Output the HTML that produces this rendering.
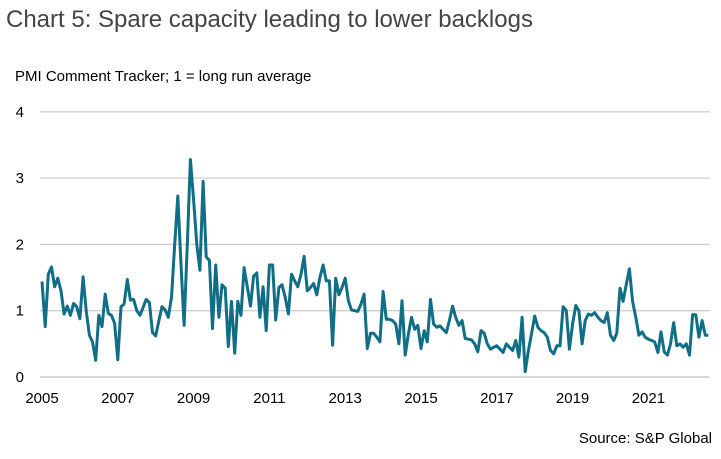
<!DOCTYPE html>
<html><head><meta charset="utf-8"><style>
body{margin:0;background:#fff;width:721px;height:454px;overflow:hidden;font-family:"Liberation Sans",sans-serif;}
</style></head><body>
<svg width="721" height="454" xmlns="http://www.w3.org/2000/svg">
<text x="6" y="27" font-size="24" fill="#444" font-family="Liberation Sans, sans-serif">Chart 5: Spare capacity leading to lower backlogs</text>
<text x="15" y="81" font-size="15" fill="#000">PMI Comment Tracker; 1 = long run average</text>
<text x="712" y="443" font-size="15" fill="#000" text-anchor="end">Source: S&amp;P Global</text>
<g id="grid"></g><g id="ylab"></g><g id="xlab"></g>
<path id="line" fill="none" stroke="#106e87" stroke-width="3" stroke-linejoin="round"/>
</svg>
<script>
const yTicks=[0,1,2,3,4];
const xTickLabels=["2005","2007","2009","2011","2013","2015","2017","2019","2021"];
const startYear=2005;
const values=[
1.44,0.76,1.55,1.66,1.36,1.49,1.3,0.95,1.07,0.93,1.11,1.06,
0.88,1.51,1.0,0.63,0.53,0.25,0.93,0.76,1.25,0.96,0.93,0.81,
0.26,1.06,1.1,1.47,1.16,1.17,1.0,0.93,1.05,1.17,1.12,0.67,
0.62,0.85,1.06,1.01,0.9,1.2,2.0,2.73,1.7,0.78,2.0,3.28,
2.67,2.0,1.61,2.95,1.81,1.76,0.73,1.69,0.9,1.39,1.34,0.46,
1.14,0.36,1.14,0.93,1.65,1.36,1.07,1.52,1.57,0.9,1.36,0.7,
1.69,1.69,0.86,1.35,1.39,1.2,0.95,1.55,1.45,1.36,1.55,1.82,
1.3,1.35,1.41,1.24,1.5,1.69,1.45,1.45,0.48,1.49,1.24,1.35,
1.49,1.15,1.01,1.0,0.99,1.1,1.25,0.43,0.66,0.66,0.6,0.53,
1.29,0.87,0.87,0.85,0.8,0.5,1.15,0.33,0.65,0.9,0.72,0.78,
0.43,0.7,0.53,1.17,0.8,0.75,0.77,0.72,0.67,0.85,1.07,0.9,
0.78,0.85,0.58,0.57,0.56,0.5,0.38,0.7,0.66,0.5,0.42,0.45,
0.47,0.42,0.37,0.5,0.45,0.4,0.55,0.3,0.9,0.08,0.4,0.65,
0.92,0.75,0.7,0.67,0.6,0.4,0.35,0.47,0.47,1.06,1.0,0.42,
0.8,1.08,1.0,0.5,0.85,0.95,0.93,0.97,0.9,0.85,0.82,0.97,
0.63,0.55,0.66,1.34,1.14,1.4,1.63,1.14,0.9,0.63,0.68,0.6,
0.57,0.55,0.53,0.37,0.68,0.38,0.33,0.5,0.82,0.47,0.5,0.45,
0.5,0.33,0.94,0.94,0.6,0.85,0.63,0.63];
const NS="http://www.w3.org/2000/svg";
const x0=42,pxYear=37.9,y0=377,pxUnit=66.3;
function xs(i){return x0+i*pxYear/12;}
function ys(v){return y0-v*pxUnit;}
const grid=document.getElementById('grid'),ylab=document.getElementById('ylab'),xlab=document.getElementById('xlab');
yTicks.forEach(t=>{
 const l=document.createElementNS(NS,'line');
 l.setAttribute('x1',40);l.setAttribute('x2',710);l.setAttribute('y1',ys(t));l.setAttribute('y2',ys(t));
 l.setAttribute('stroke',t===0?'#bfbfbf':'#d0d0d0');l.setAttribute('stroke-width',1.3);
 
 
 grid.appendChild(l);
 const tx=document.createElementNS(NS,'text');
 tx.setAttribute('x',24);tx.setAttribute('y',ys(t)+5);tx.setAttribute('font-size',15);tx.setAttribute('text-anchor','end');
 tx.textContent=t;
 
 
 ylab.appendChild(tx);
});
xTickLabels.forEach(lb=>{
 const i=(parseInt(lb)-startYear)*12;
 const tx=document.createElementNS(NS,'text');
 tx.setAttribute('x',xs(i));tx.setAttribute('y',403);tx.setAttribute('font-size',15);tx.setAttribute('text-anchor','middle');
 tx.textContent=lb;
 
 
 xlab.appendChild(tx);
});
document.getElementById('line').setAttribute('d',values.map((v,i)=>(i?'L':'M')+xs(i).toFixed(1)+','+ys(v).toFixed(1)).join(''));
</script>
</body></html>
